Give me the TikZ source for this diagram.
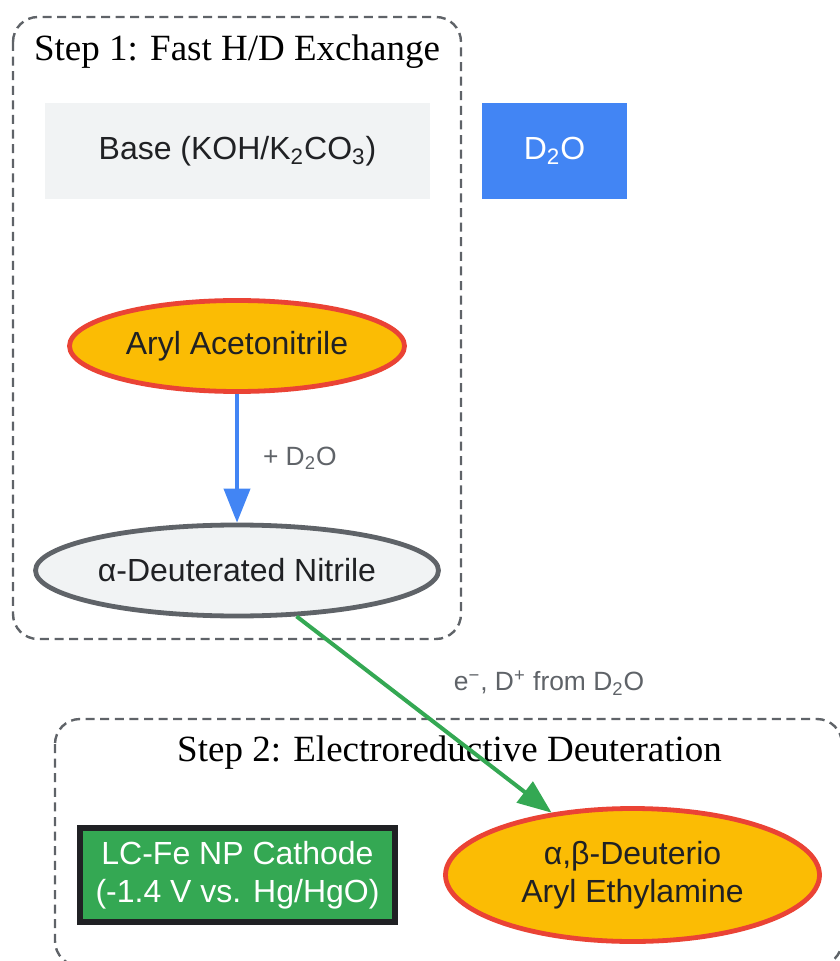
\documentclass[tikz,border=0pt]{standalone}
\usepackage{fontspec}
\setmainfont{Liberation Serif}
\newfontfamily\sansf{Liberation Sans}
\usetikzlibrary{shapes.geometric,arrows.meta}
\definecolor{gblue}{HTML}{4285F4}
\definecolor{ggreen}{HTML}{34A853}
\definecolor{gyellow}{HTML}{FBBC04}
\definecolor{gred}{HTML}{EA4335}
\definecolor{glight}{HTML}{F1F3F4}
\definecolor{ggray}{HTML}{5F6368}
\definecolor{gdark}{HTML}{202124}
\tikzset{
  cluster/.style={draw=ggray, line width=1.2pt, dash pattern=on 4.5pt off 2.8pt, rounded corners=12.5pt},
  ctitle/.style={font=\fontsize{18.5pt}{22pt}\selectfont, text=black, inner sep=0pt},
  nodetext/.style={font=\sansf\fontsize{16pt}{19pt}\selectfont, text=gdark, align=center, inner sep=0pt},
  rectbox/.style={nodetext, rectangle},
  ell/.style={nodetext, ellipse, fill=gyellow, draw=gred, line width=2.4pt},
  elabel/.style={font=\sansf\fontsize{13.2pt}{15pt}\selectfont, text=ggray, inner sep=0pt},
  conn/.style={line width=2pt, -{Triangle[length=17pt,width=13pt]}}
}
\begin{document}
\begin{tikzpicture}[x=0.5pt,y=-0.5pt]
\useasboundingbox (0,0) rectangle (839,961);
% clusters
\draw[cluster] (13,17) rectangle (461,639);
\draw[cluster] (55,719) rectangle (842,966);
\node[ctitle] (t1) at (237,52) {Step 1: Fast H/D Exchange};
\node[ctitle] (t2) at (449.5,753) {Step 2: Electroreductive Deuteration};
% nodes
\node[rectbox, fill=glight, minimum width=192.5pt, minimum height=48pt] (base) at (237.5,151) {Base (KOH/K\textsubscript{2}CO\textsubscript{3})};
\node[rectbox, fill=gblue, text=white, minimum width=72.5pt, minimum height=48pt] (d2o) at (554.5,151) {D\textsubscript{2}O};
\node[ell, minimum width=167.5pt, minimum height=45.5pt] (aryl) at (237,346) {Aryl Acetonitrile};
\node[ell, fill=glight, draw=ggray, minimum width=201.5pt, minimum height=45.5pt] (nitrile) at (237,570.5) {α-Deuterated Nitrile};
\node[rectbox, fill=ggreen, draw=gdark, line width=2.8pt, text=white, minimum width=157.5pt, minimum height=47pt] (cathode) at (237.5,875) {LC-Fe NP Cathode\\(-1.4 V vs. Hg/HgO)};
\node[ell, minimum width=187pt, minimum height=66.5pt] (product) at (632.5,875) {α,β-Deuterio\\Aryl Ethylamine};
% connectors
\draw[conn, draw=gblue, fill=gblue] (aryl) -- (nitrile) node[pos=0.5, right=12pt, elabel] (l1) {+ D\textsubscript{2}O};
\draw[conn, draw=ggreen, fill=ggreen] (nitrile) -- (product);
\node[elabel] (l2) at (549,683) {e\textsuperscript{−}, D\textsuperscript{+} from D\textsubscript{2}O};
\end{tikzpicture}
\end{document}
